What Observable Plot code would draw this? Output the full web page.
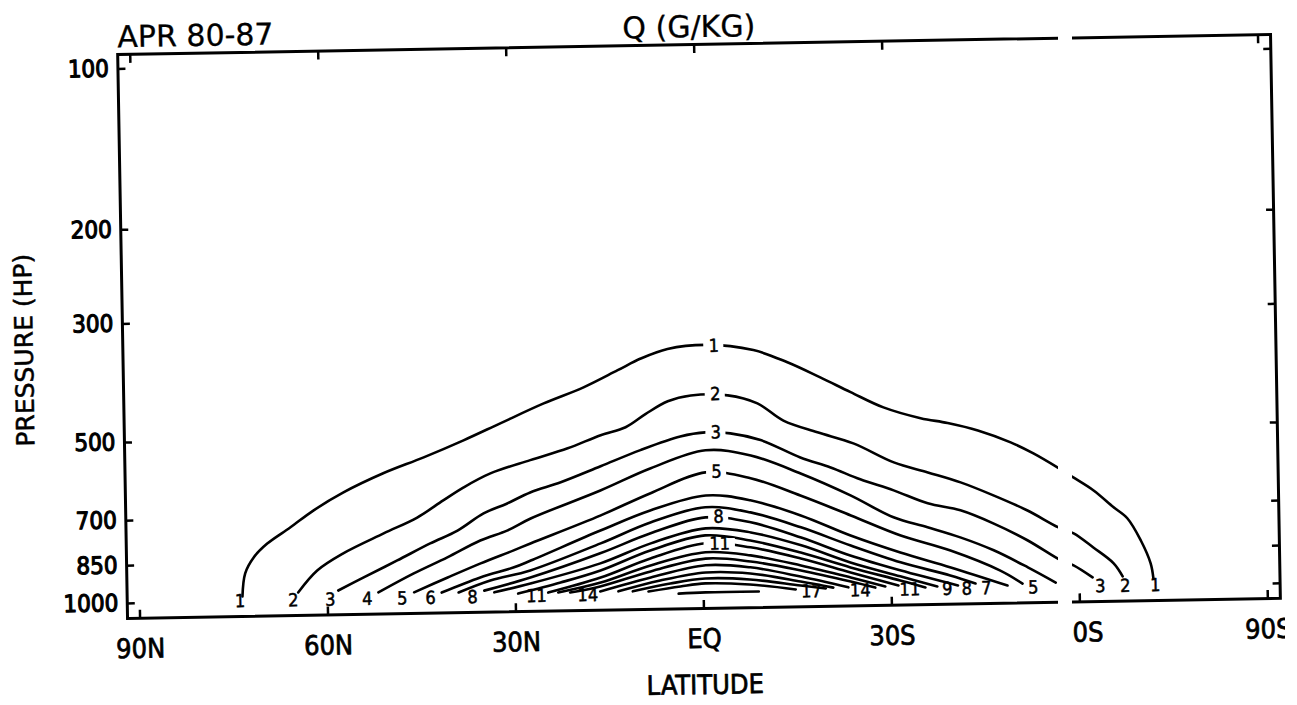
<!DOCTYPE html>
<html><head><meta charset="utf-8">
<script src="https://cdn.jsdelivr.net/npm/d3@7"></script>
<script src="https://cdn.jsdelivr.net/npm/@observablehq/plot@0.6"></script>
<style>
html,body{margin:0;padding:0;background:#fff;}
#wrap{position:relative;width:1297px;height:705px;overflow:hidden;background:#fff;}
#wrap svg{position:absolute;left:0;top:0;transform:rotate(-1deg);transform-origin:698px 325px;}
.scan{position:absolute;top:0;height:705px;background:#fff;}
</style></head><body><div id="wrap"></div>
<script>
// Axis ticks
const latTicks = [90, 60, 30, 0, -30, -60, -90];
const latLabels = ["90N", "60N", "30N", "EQ", "30S", "60S", "90S"];
const pressureTicks = [100, 200, 300, 500, 700, 850, 1000];

// Contour levels (g/kg) and their traced paths: [latitude (N +), pressure hPa]
const levels = [1, 2, 3, 4, 5, 6, 7, 8, 9, 10, 11, 12, 13, 14, 15, 16, 17, 18];
const q1 = [[73.6,979],[73.1,886],[71.7,828],[69.5,781],[65.8,730],[62.0,679],[57.2,630],[50.8,582],[44.3,545],[37.9,508],[31.9,473],[25.0,436],[18.6,408],[13.1,380],[9.4,362],[5.1,348],[-1.0,343],[-8.6,352],[-14.0,372],[-19.2,398],[-24.0,425],[-29.2,455],[-35.1,478],[-39.4,489],[-44.2,506],[-49.4,534],[-53.0,561],[-56.8,597],[-59.3,624],[-62.5,661],[-65.6,711],[-67.8,747],[-69.9,823],[-71.4,909],[-71.8,970]];
const q2 = [[64.7,966],[61.6,880],[57.4,819],[50.9,754],[45.5,706],[41.3,657],[38.0,622],[33.7,587],[27.3,556],[21.3,530],[16.0,502],[12.0,486],[8.8,460],[5.2,436],[1.5,426],[-4.4,427],[-9.1,443],[-13.2,478],[-18.6,504],[-24.3,530],[-30.7,577],[-36.1,604],[-41.3,632],[-46.5,670],[-51.9,717],[-56.8,773],[-59.2,794],[-62.3,845],[-65.5,906],[-66.9,959]];
const q3 = [[58.3,961],[54.2,910],[48.8,848],[43.5,790],[39.1,749],[34.9,697],[31.1,669],[27.4,639],[22.5,613],[16.1,574],[9.7,537],[3.3,508],[-0.7,500],[-4.7,503],[-9.5,519],[-15.8,561],[-20.6,587],[-25.3,619],[-30.6,651],[-36.0,690],[-41.2,713],[-46.4,756],[-51.8,815],[-57.1,891],[-59.1,911],[-62.1,961]];
const q4 = [[51.9,972],[46.2,898],[40.8,840],[35.5,783],[31.1,751],[27.4,715],[16.2,637],[8.1,581],[-0.7,540],[-7.9,554],[-15.8,601],[-23.7,663],[-30.5,731],[-35.9,765],[-41.1,801],[-46.4,849],[-51.8,916],[-56.2,980]];
const q5 = [[46.2,974],[40.8,916],[35.5,864],[30.2,819],[27.5,796],[16.2,709],[8.2,647],[-0.6,594],[-7.8,611],[-15.7,661],[-23.7,723],[-31.6,791],[-39.5,847],[-47.4,927],[-50.9,982]];
const q6 = [[41.8,977],[35.6,918],[30.3,882],[27.5,857],[16.3,757],[8.3,697],[-0.6,656],[-7.7,672],[-15.7,720],[-23.6,788],[-31.5,851],[-39.5,911],[-48.5,989]];
const q7 = [[39.1,978],[34.0,931],[27.6,894],[16.3,800],[8.3,734],[-0.5,690],[-7.7,708],[-15.7,758],[-23.6,823],[-31.5,888],[-39.4,943],[-43.4,978]];
const q8 = [[35.0,972],[27.6,922],[16.4,835],[8.3,769],[-0.5,721],[-7.7,739],[-15.7,792],[-23.5,859],[-31.4,919],[-40.6,985]];
const q9 = [[33.4,980],[27.6,946],[16.4,872],[8.3,803],[-0.5,756],[-7.7,772],[-15.7,819],[-23.5,885],[-31.4,943],[-37.3,988]];
const q10 = [[29.6,987],[22.8,944],[16.4,899],[8.4,828],[-0.4,779],[-7.6,799],[-15.6,845],[-23.5,904],[-31.4,960],[-35.4,991]];
const q11 = [[24.8,985],[16.4,927],[8.4,857],[-0.4,806],[-7.6,823],[-15.6,867],[-23.5,924],[-31.1,981]];
const q12 = [[23.2,985],[16.4,947],[8.4,883],[-0.4,838],[-7.6,852],[-15.6,893],[-23.5,944],[-29.0,984]];
const q13 = [[21.3,986],[16.5,963],[8.4,906],[-0.4,861],[-7.6,875],[-15.6,913],[-23.5,961],[-27.4,988]];
const q14 = [[16.5,984],[8.4,930],[-0.4,886],[-7.5,897],[-15.5,937],[-23.1,985]];
const q15 = [[13.6,985],[6.9,943],[-0.4,914],[-7.5,921],[-15.5,957],[-20.7,985]];
const q16 = [[11.3,986],[5.3,956],[-0.3,938],[-7.4,945],[-15.5,974],[-19.5,988]];
const q17 = [[8.8,988],[3.7,969],[-0.3,958],[-7.4,966],[-14.7,990]];
const q18 = [[4.0,999],[-0.3,996],[-8.8,996]];

// In-line labels near the equator
const midLabelLevels = [1, 2, 3, 5, 8, 11];
const midLabelLats = [-2.3, -2.4, -2.4, -2.4, -2.6, -2.7];
const midLabelPressures = [345, 425, 501, 593, 720, 809];

// Labels along the 1000 hPa level
const bottomLabelLevels = [1, 2, 3, 4, 5, 6, 8, 11, 14, 17, 14, 11, 9, 8, 7, 5, 4, 3, 2, 1];
const bottomLabelLats = [74.0, 65.5, 59.6, 53.7, 48.1, 43.6, 36.9, 26.7, 18.5, -17.2, -25.0, -32.9, -38.9, -42.0, -45.1, -52.6, -57.9, -63.3, -67.3, -72.1];
const bottomLabelPressure = 1000;

const contours = [q1, q2, q3, q4, q5, q6, q7, q8, q9, q10, q11, q12, q13, q14, q15, q16, q17, q18];
const rows = contours.flatMap((pts, i) => pts.map(([lat, p]) => ({level: levels[i], lat, p})));
const mid = midLabelLevels.map((level, i) => ({level, lat: midLabelLats[i], p: midLabelPressures[i]}));
const bottom = bottomLabelLevels.map((level, i) => ({level, lat: bottomLabelLats[i], p: bottomLabelPressure}));

const font = "'DejaVu Sans Condensed', 'DejaVu Sans', sans-serif";
const wideFont = "'DejaVu Sans', sans-serif";
const k = 1.022;

const chart = Plot.plot({
  width: 1297,
  height: 705,
  marginTop: 44,
  marginRight: 22,
  marginBottom: 97,
  marginLeft: 122,
  style: {fontFamily: font, color: "black", background: "white", overflow: "visible"},
  x: {domain: [92, -92], label: null},
  y: {type: "log", domain: [94, 1067], reverse: true, label: null},
  marks: [
    Plot.line(rows, {x: "lat", y: "p", z: "level", curve: "catmull-rom", stroke: "black", strokeWidth: 2.6}),
    Plot.rect(mid, {
      x1: d => d.lat + (String(d.level).length > 1 ? 2.5 : 1.6),
      x2: d => d.lat - (String(d.level).length > 1 ? 2.5 : 1.6),
      y1: d => d.p / k, y2: d => d.p * k, fill: "white"
    }),
    Plot.text(mid, {x: "lat", y: "p", text: d => String(d.level), fontSize: 18, fill: "black", stroke: "black", strokeWidth: 0.5}),
    Plot.text(bottom, {x: "lat", y: "p", text: d => String(d.level), fontSize: 18, fill: "black", stroke: "black", strokeWidth: 0.5}),
    Plot.frame({stroke: "black", strokeWidth: 3}),
    Plot.axisX(latTicks, {anchor: "bottom", tickSize: -8, strokeWidth: 2.5, tickFormat: () => ""}),
    Plot.axisX(latTicks, {anchor: "top", tickSize: -8, strokeWidth: 2.5, tickFormat: () => ""}),
    Plot.axisX(latTicks, {anchor: "bottom", tickSize: 0, tickPadding: 31, lineAnchor: "middle", fontSize: 27,
      textStroke: "black", textStrokeWidth: 0.7,
      tickFormat: d => latLabels[latTicks.indexOf(d)]}),
    Plot.axisY(pressureTicks, {anchor: "left", tickSize: -8, tickPadding: 17, strokeWidth: 2.5, fontSize: 24,
      textStroke: "black", textStrokeWidth: 1.1,
      tickFormat: d => String(d)}),
    Plot.axisY(pressureTicks, {anchor: "right", tickSize: -8, strokeWidth: 2.5, tickFormat: () => ""}),
    Plot.text(["PRESSURE (HP)"], {frameAnchor: "left", textAnchor: "middle", lineAnchor: "middle",
      dx: -98, dy: 12, rotate: -90, fontSize: 25, fontFamily: wideFont, fill: "black", stroke: "black", strokeWidth: 0.5}),
    Plot.text(["LATITUDE"], {frameAnchor: "bottom", textAnchor: "middle", lineAnchor: "middle",
      dy: 77, fontSize: 27, fill: "black", stroke: "black", strokeWidth: 0.7}),
    Plot.text(["APR 80-87"], {frameAnchor: "top-left", textAnchor: "start", lineAnchor: "middle",
      dy: -17, fontSize: 30, fontFamily: wideFont, fill: "black", stroke: "black", strokeWidth: 0.3}),
    Plot.text(["Q (G/KG)"], {frameAnchor: "top", textAnchor: "middle", lineAnchor: "middle",
      dx: -5, dy: -17, fontSize: 30, fontFamily: wideFont, fill: "black", stroke: "black", strokeWidth: 0.3})
  ]
});

const wrap = document.getElementById("wrap");
wrap.appendChild(chart);
// scanner artefacts of the original page: a blank vertical band and a clipped right edge
for (const [left, w] of [[1058, 14], [1285, 12]]) {
  const d = document.createElement("div");
  d.className = "scan";
  d.style.left = left + "px";
  d.style.width = w + "px";
  wrap.appendChild(d);
}
</script>
</body></html>
